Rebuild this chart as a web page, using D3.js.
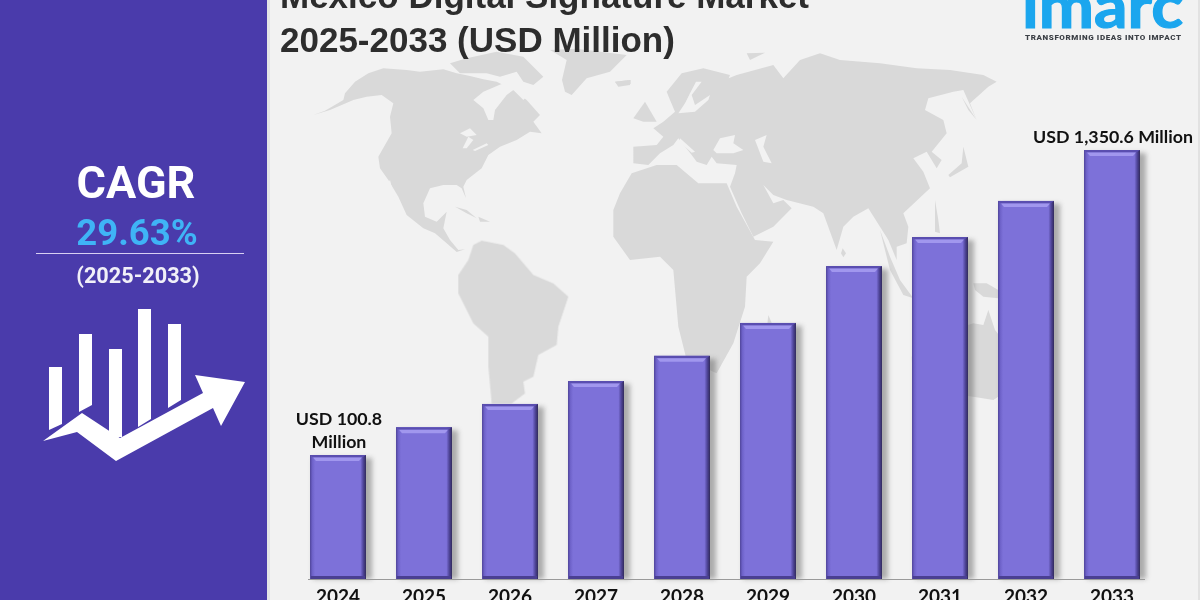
<!DOCTYPE html>
<html><head><meta charset="utf-8">
<script src="https://cdn.jsdelivr.net/npm/d3@7"></script>
<style>html,body{margin:0;padding:0;background:#f2f2f2;overflow:hidden}svg{display:block}</style>
</head><body><svg id="c" width="1200" height="600"></svg>
<script>
// ---- chart data ----
const years = ["2024","2025","2026","2027","2028","2029","2030","2031","2032","2033"];
const marketValues = [100.8,215,310,404,507,642,875,994,1142,1350.6];
const titleLines = ["Mexico Digital Signature Market","2025-2033 (USD Million)"];
const firstLabelLines = ["USD 100.8","Million"];
const lastLabel = "USD 1,350.6 Million";

// ---- decorative backdrop outlines, traced at 3x, each set with its own origin ----
const mapAmericasNorth = {origin:[310,40], land:[
 [[10,225],[45,212],[100,180],[105,160],[135,125],[175,100],[220,85],[290,90],[330,95],[400,88],[440,100],[480,108],[520,118],[560,125],[610,150],[650,180],[690,225],[670,245],[695,280],[660,275],[620,300],[570,320],[535,345],[515,385],[470,420],[460,440],[468,475],[455,445],[440,435],[400,435],[360,445],[340,490],[345,530],[380,545],[410,515],[400,565],[420,600],[445,630],[465,628],[440,636],[410,610],[375,580],[340,565],[290,525],[265,470],[235,420],[210,385],[205,350],[245,280],[240,230],[250,190],[215,165],[170,170],[130,180],[60,210]],
 [[420,70],[470,55],[560,35],[640,50],[700,110],[670,135],[640,125],[620,95],[570,110],[530,100],[450,100]],
 [[756,120],[770,60],[720,30],[800,26],[950,45],[900,95],[830,115],[785,165],[765,155]],
 [[915,125],[960,120],[960,135],[925,140]],
 [[435,500],[470,510],[500,535],[470,520]],
 [[505,530],[540,545],[510,545]]
], water:[
 [[490,180],[520,205],[535,240],[550,240],[555,210],[590,165],[610,150],[640,180],[660,160],[640,130],[620,120],[580,130],[520,155]],
 [[450,280],[480,265],[500,285],[470,290]],
 [[458,325],[475,290],[490,300],[470,325]],
 [[488,330],[530,310],[535,315],[495,333]],
 [[240,420],[258,495],[252,497],[234,430]]
]};
const mapEurasiaAfrica = {origin:[560,40], land:[
 [[220,320],[220,370],[265,375],[300,340],[340,315],[355,295],[395,345],[410,365],[440,375],[455,350],[470,370],[530,375],[525,400],[510,440],[545,520],[580,590],[640,560],[695,505],[670,480],[640,490],[610,435],[640,465],[680,480],[760,500],[790,520],[830,630],[850,560],[880,530],[925,505],[960,560],[985,600],[1010,660],[1010,620],[1040,610],[1045,560],[1030,520],[1110,445],[1090,395],[1060,355],[1100,335],[1130,385],[1145,360],[1115,335],[1160,280],[1150,240],[1095,210],[1105,175],[1180,155],[1210,150],[1250,240],[1230,190],[1285,140],[1310,125],[1270,105],[1170,90],[1070,85],[960,70],[840,60],[780,40],[720,60],[670,115],[640,75],[530,105],[480,125],[500,130],[510,105],[430,85],[365,100],[320,155],[330,180],[345,215],[310,245],[280,265],[310,290],[290,315]],
 [[160,510],[180,460],[215,400],[290,375],[350,375],[415,430],[500,430],[530,500],[585,600],[640,605],[600,670],[560,710],[555,800],[520,910],[470,1000],[380,960],[355,860],[340,690],[300,650],[210,660],[160,590]],
 [[220,235],[255,185],[290,245],[250,245]],
 [[165,125],[212,120],[212,132],[175,138]],
 [[1210,320],[1225,380],[1170,412],[1165,405],[1205,370]],
 [[1205,170],[1250,240],[1225,210]],
 [[848,625],[858,640],[850,652],[843,640]],
 [[625,825],[640,860],[620,870]],
 [[560,40],[615,38],[570,60]]
], water:[
 [[460,330],[480,295],[525,285],[520,310],[550,330],[520,340],[470,340]],
 [[585,300],[620,285],[610,320],[635,370],[610,365]],
 [[408,125],[425,125],[395,165],[405,195],[450,165],[445,180],[405,215],[355,220],[375,190],[390,160]],
 [[360,295],[405,335],[395,338],[358,305]]
]};
const mapAmericasSouth = {origin:[440,230], land:[
 [[100,45],[125,32],[190,45],[225,70],[280,135],[340,160],[385,200],[355,290],[350,345],[295,375],[280,440],[250,455],[255,490],[215,520],[155,520],[145,410],[145,320],[100,280],[55,190],[55,135],[85,90]]
], water:[]};
const mapOceania = {origin:[880,200], land:[
 [[95,470],[130,420],[200,395],[280,370],[310,375],[325,330],[345,390],[400,460],[400,560],[340,600],[280,590],[200,580],[100,570]],
 [[280,250],[320,250],[355,270],[355,295],[310,290],[285,270]],
 [[0,90],[30,170],[60,240],[100,295],[70,285],[30,210]],
 [[165,0],[175,60],[180,100],[165,95],[165,60]]
], water:[]};
const mapSets = [mapAmericasNorth,mapEurasiaAfrica,mapAmericasSouth,mapOceania];
const iconBars = [[49,62,367,430,424],[79,92,334,412,405],[109,122,349,437,437],[138,151,309,427,419],[168,181,324,408,400]];
const iconArrow = [[43,441],[82,413],[120,438],[203,393],[195,375],[245,382],[221,426],[213,408],[116,461],[77,432]];

// ---- drawing ----
const svg = d3.select("#c");
const defs = svg.append("defs");
const blur = defs.append("filter").attr("id","sh").attr("x","-30%").attr("y","-10%").attr("width","160%").attr("height","120%");
blur.append("feGaussianBlur").attr("stdDeviation",2.5);
const soft = defs.append("filter").attr("id","soft");
soft.append("feGaussianBlur").attr("stdDeviation",0.6);
const hGrad = defs.append("linearGradient").attr("id","barH");
[[0,"#4f4499"],[0.04,"#6d61c8"],[0.09,"#7d71d9"],[0.9,"#7d71d9"],[0.95,"#4f4599"],[1,"#312a5c"]]
  .forEach(s=>hGrad.append("stop").attr("offset",s[0]).attr("stop-color",s[1]));

svg.append("rect").attr("width",1200).attr("height",600).attr("fill","#f2f2f2");
svg.append("rect").attr("x",1198).attr("width",2).attr("height",600).attr("fill","#e2e2e2");

const line = d3.line().curve(d3.curveLinearClosed);
const mapG = svg.append("g").attr("filter","url(#soft)");
mapSets.forEach(s=>{
  const g = mapG.append("g").attr("transform",`translate(${s.origin[0]},${s.origin[1]}) scale(${1/3})`);
  g.selectAll(".land").data(s.land).join("path").attr("class","land").attr("d",line).attr("fill","#d9d9d9");
});
mapSets.forEach(s=>{
  const g = mapG.append("g").attr("transform",`translate(${s.origin[0]},${s.origin[1]}) scale(${1/3})`);
  g.selectAll(".water").data(s.water).join("path").attr("class","water").attr("d",line).attr("fill","#f2f2f2");
});

// side panel
svg.append("rect").attr("x",267).attr("width",3).attr("height",600).attr("fill","#e4e4e6");
svg.append("rect").attr("width",267).attr("height",600).attr("fill","#4a3bab");
const side = svg.append("g").attr("font-family","Roboto").attr("font-weight",700).attr("text-anchor","middle");
side.append("text").attr("x",136).attr("y",198).attr("font-size",45).attr("fill","#fff").text("CAGR");
side.append("text").attr("x",137).attr("y",245).attr("font-size",36.5).attr("fill","#3fb4f6").text("29.63%");
side.append("text").attr("x",138).attr("y",283).attr("font-size",21.7).attr("fill","#f1f0f8").text("(2025-2033)");
svg.append("line").attr("x1",36).attr("x2",244).attr("y1",253.5).attr("y2",253.5).attr("stroke","#d8cff2").attr("stroke-width",1.2);
svg.append("g").selectAll("path").data(iconBars).join("path").attr("fill","#fff")
  .attr("d",b=>line([[b[0],b[2]],[b[1],b[2]],[b[1],b[4]],[b[0],b[3]]]));
svg.append("path").attr("fill","#fff").attr("d",line(iconArrow));

// title
svg.append("g").attr("font-family","Liberation Sans").attr("font-weight",700).attr("font-size",35).attr("fill","#2d2d2d")
  .selectAll("text").data(titleLines).join("text").attr("x",280).attr("y",(d,i)=>8+i*44).text(d=>d);

// logo
svg.append("text").attr("x",1022).attr("y",28).attr("font-family","Lato").attr("font-weight",700).attr("font-size",62)
  .attr("fill","#1ba6ee").attr("stroke","#1ba6ee").attr("stroke-width",1.2)
  .attr("textLength",161).attr("lengthAdjust","spacingAndGlyphs").text("imarc");
svg.append("text").attr("x",1025).attr("y",40).attr("font-family","Roboto").attr("font-weight",900).attr("font-size",8)
  .attr("fill","#3d4147").attr("textLength",156).text("TRANSFORMING IDEAS INTO IMPACT");

// scales
const baseY = 579;
const x = d3.scaleBand().domain(years).range([295,1155]).paddingInner(0.349).paddingOuter(0.1745);
const y = d3.scaleLinear().domain([100.8,1350.6]).range([455,150]);
const rows = years.map((yr,i)=>({yr,v:marketValues[i]}));

const bars = svg.append("g").selectAll("g").data(rows).join("g")
  .attr("transform",d=>`translate(${x(d.yr)},${y(d.v)})`);
const w = x.bandwidth();
const h = d=>baseY-y(d.v);
bars.append("rect").attr("x",3).attr("y",3).attr("width",w+3).attr("height",d=>h(d)-3).attr("fill","#666").attr("opacity",.5).attr("filter","url(#sh)");
bars.append("rect").attr("width",w).attr("height",h).attr("fill","url(#barH)");
bars.append("path").attr("fill","#5a4eb0").attr("d",line([[0,0],[w,0],[w-4,2.5],[3,2.5]]));
bars.append("path").attr("fill","#a197ee").attr("d",line([[3,2.5],[w-4,2.5],[w-7,6],[6,6]]));
bars.append("rect").attr("x",1).attr("y",d=>h(d)-3).attr("width",w-2).attr("height",3).attr("fill","#4a3f92");

// x axis
const axis = svg.append("g").attr("transform",`translate(0,${baseY})`)
  .call(d3.axisBottom(x).tickSize(0).tickPadding(11));
axis.select(".domain").attr("stroke","#9a9a9a").attr("d","M308,0.5H1145");
axis.selectAll("text").attr("font-family","Lato").attr("font-weight",700).attr("font-size",19).attr("fill","#111");

// value labels
const lab = svg.append("g").attr("font-family","Lato").attr("font-weight",700).attr("font-size",17.8).attr("fill","#111").attr("text-anchor","middle");
lab.selectAll(".first").data(firstLabelLines).join("text").attr("class","first")
  .attr("x",x(years[0])+w/2+1).attr("y",(d,i)=>y(marketValues[0])-30+i*23).text(d=>d);
lab.append("text").attr("x",x(years[9])+w/2+1).attr("y",y(marketValues[9])-7).text(lastLabel);
</script></body></html>
